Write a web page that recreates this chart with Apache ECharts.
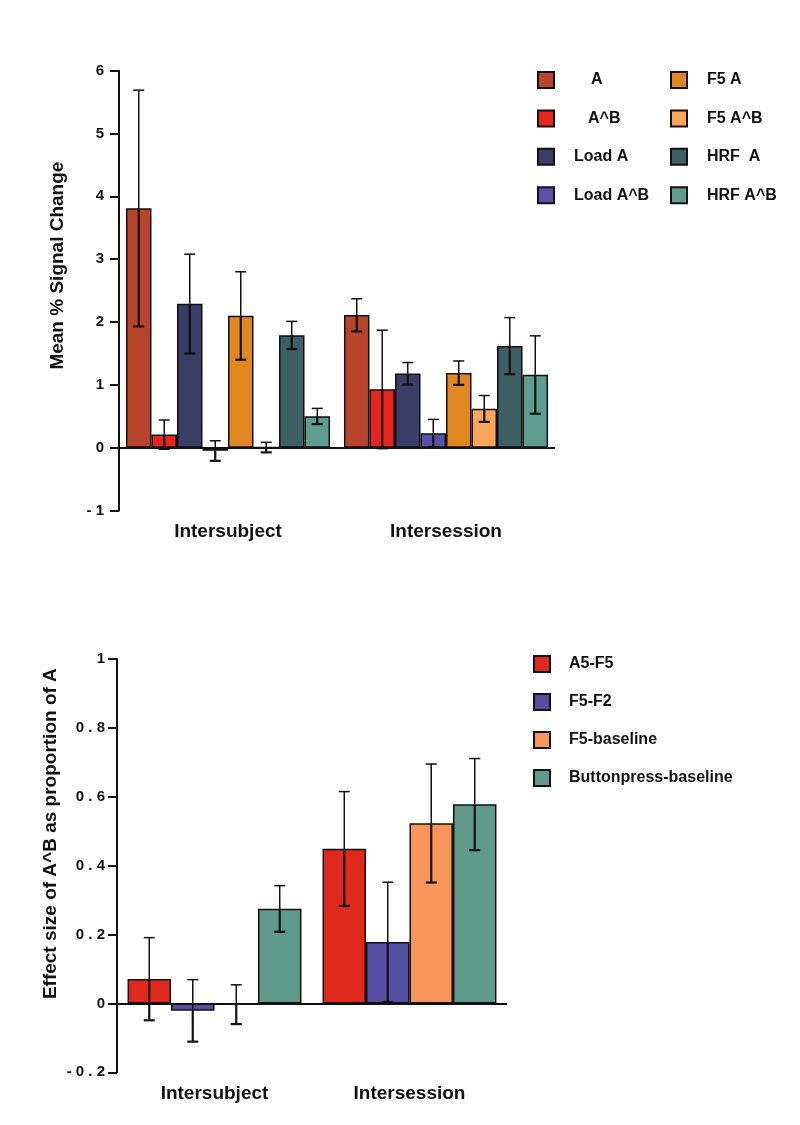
<!DOCTYPE html>
<html>
<head>
<meta charset="utf-8">
<style>
  html, body { margin: 0; padding: 0; background: #ffffff; }
  #chart { width: 800px; height: 1125px; }
</style>
<script src="https://cdn.jsdelivr.net/npm/echarts@6/dist/echarts.min.js"></script>
</head>
<body>
<div id="chart"></div>
<script>
// ---------- DATA ----------
const categories = ['Intersubject', 'Intersession'];

// Top chart: Mean % Signal Change
const topNames  = ['A', 'A^B', 'Load A', 'Load A^B', 'F5 A', 'F5 A^B', 'HRF  A', 'HRF A^B'];
const topColors = ['#b8452b', '#e8251d', '#3b3e66', '#5a52aa', '#e0881f', '#f9a65a', '#3e5f66', '#5f9e8e'];
const topMeans = [
  [3.81, 2.11],   // A
  [0.21, 0.93],   // A^B
  [2.29, 1.18],   // Load A
  [-0.05, 0.23],  // Load A^B
  [2.10, 1.19],   // F5 A
  [0.005, 0.62],  // F5 A^B
  [1.79, 1.62],   // HRF A
  [0.50, 1.16]    // HRF A^B
];
const topErrs = [
  [1.88, 0.26],
  [0.23, 0.94],
  [0.79, 0.175],
  [0.16, 0.22],
  [0.70, 0.19],
  [0.08, 0.21],
  [0.22, 0.45],
  [0.125, 0.62]
];
const topTickLabels = ['- 1', '0', '1', '2', '3', '4', '5', '6'];

// Bottom chart: Effect size of A^B as proportion of A
const botNames  = ['A5-F5', 'F5-F2', 'F5-baseline', 'Buttonpress-baseline'];
const botColors = ['#de291c', '#544fa3', '#f8955b', '#5f9a8b'];
const botMeans = [
  [0.071, 0.449],
  [-0.021, 0.178],
  [-0.003, 0.523],
  [0.275, 0.578]
];
const botErrs = [
  [0.12, 0.166],
  [0.09, 0.174],
  [0.057, 0.172],
  [0.067, 0.133]
];
const botTickLabels = ['- 0 . 2', '0', '0 . 2', '0 . 4', '0 . 6', '0 . 8', '1'];

// ---------- CHART ----------
const FONT = 'Liberation Sans, Arial, Helvetica, sans-serif';
const chart = echarts.init(document.getElementById('chart'), null, { renderer: 'canvas' });

const TOP_GAP = 0.064, BOT_GAP = 0.108;

function errorRenderer(nBars, gapFrac) {
  return function (params, api) {
    const cat = api.value(0), mean = api.value(1), err = api.value(2), idx = api.value(3);
    const band = api.size([1, 0])[0];
    const barW = band * (1 - gapFrac) / nBars;
    const cx = api.coord([cat, mean])[0] + (idx - (nBars - 1) / 2) * barW;
    const yMean = api.coord([cat, mean])[1];
    const yHi = api.coord([cat, mean + err])[1];
    const yLo = api.coord([cat, mean - err])[1];
    const cap = 5.5;
    const thin = { stroke: '#111', lineWidth: 1.5 };
    const thick = { stroke: '#111', lineWidth: 2.2 };
    return {
      type: 'group',
      children: [
        { type: 'line', shape: { x1: cx, y1: yMean, x2: cx, y2: yHi }, style: thin },
        { type: 'line', shape: { x1: cx - cap, y1: yHi, x2: cx + cap, y2: yHi }, style: thin },
        { type: 'line', shape: { x1: cx, y1: yMean, x2: cx, y2: yLo }, style: thick },
        { type: 'line', shape: { x1: cx - cap, y1: yLo, x2: cx + cap, y2: yLo }, style: thick }
      ]
    };
  };
}

function zeroLine() {
  return {
    silent: true,
    symbol: ['none', 'none'],
    label: { show: false },
    lineStyle: { color: '#111', width: 2, type: 'solid' },
    data: [{ yAxis: 0 }]
  };
}

const series = [];
topNames.forEach((name, i) => {
  series.push({
    name: name, type: 'bar', xAxisIndex: 0, yAxisIndex: 0,
    barGap: '0%', barCategoryGap: (TOP_GAP * 100) + '%',
    itemStyle: { color: topColors[i], borderColor: '#111', borderWidth: 1.5 },
    data: topMeans[i],
    markLine: i === 0 ? zeroLine() : undefined,
    animation: false
  });
});
const topErrData = [];
topNames.forEach((n, i) => categories.forEach((c, j) => topErrData.push([j, topMeans[i][j], topErrs[i][j], i])));
series.push({
  type: 'custom', xAxisIndex: 0, yAxisIndex: 0, z: 5,
  renderItem: errorRenderer(topNames.length, TOP_GAP),
  data: topErrData, animation: false, silent: true
});

botNames.forEach((name, i) => {
  series.push({
    name: name, type: 'bar', xAxisIndex: 1, yAxisIndex: 1,
    barGap: '0%', barCategoryGap: (BOT_GAP * 100) + '%',
    itemStyle: { color: botColors[i], borderColor: '#111', borderWidth: 1.5 },
    data: botMeans[i],
    markLine: i === 0 ? zeroLine() : undefined,
    animation: false
  });
});
const botErrData = [];
botNames.forEach((n, i) => categories.forEach((c, j) => botErrData.push([j, botMeans[i][j], botErrs[i][j], i])));
series.push({
  type: 'custom', xAxisIndex: 1, yAxisIndex: 1, z: 5,
  renderItem: errorRenderer(botNames.length, BOT_GAP),
  data: botErrData, animation: false, silent: true
});

function labelFmt(labels, min, step) {
  return function (v) {
    const k = Math.round((v - min) / step);
    return labels[k] !== undefined ? labels[k] : '';
  };
}

const legendText = { fontFamily: FONT, fontWeight: 'bold', fontSize: 16, color: '#111' };
function legendRich(pads) {
  const rich = {};
  pads.forEach(p => {
    rich['p' + p] = Object.assign({}, legendText, { padding: [0, 0, 0, p] });
  });
  return rich;
}
const topPad = { 'A': 32, 'A^B': 29, 'Load A': 15, 'Load A^B': 15, 'F5 A': 15, 'F5 A^B': 15, 'HRF  A': 15, 'HRF A^B': 15 };

const legendBase = {
  orient: 'vertical', itemWidth: 16, itemHeight: 16, selectedMode: false, padding: 0,
  icon: 'rect', textStyle: Object.assign({ rich: legendRich([14, 15, 29, 32]) }, legendText)
};

const option = {
  backgroundColor: '#ffffff',
  animation: false,
  grid: [
    { left: 119, top: 70.7, width: 436, height: 439.8, containLabel: false },
    { left: 117, top: 659, width: 390, height: 413.3, containLabel: false }
  ],
  legend: [
    Object.assign({}, legendBase, {
      left: 537, top: 71, itemGap: 20.4,
      data: topNames.slice(0, 4),
      formatter: n => '{p' + topPad[n] + '|' + n + '}'
    }),
    Object.assign({}, legendBase, {
      left: 670, top: 71, itemGap: 20.4,
      data: topNames.slice(4),
      formatter: n => '{p' + topPad[n] + '|' + n + '}'
    }),
    Object.assign({}, legendBase, {
      left: 533, top: 655, itemGap: 20,
      data: botNames,
      formatter: n => '{p14|' + n + '}'
    })
  ],
  xAxis: [
    {
      type: 'category', gridIndex: 0, data: categories,
      axisLine: { show: false, onZero: false }, axisTick: { show: false },
      axisLabel: { margin: 12, fontFamily: FONT, fontWeight: 'bold', fontSize: 19, color: '#111' }
    },
    {
      type: 'category', gridIndex: 1, data: categories,
      axisLine: { show: false, onZero: false }, axisTick: { show: false },
      axisLabel: { margin: 12, fontFamily: FONT, fontWeight: 'bold', fontSize: 19, color: '#111' }
    }
  ],
  yAxis: [
    {
      type: 'value', gridIndex: 0, min: -1, max: 6, interval: 1,
      name: 'Mean % Signal Change', nameLocation: 'middle', nameGap: 52, nameRotate: 90,
      nameTextStyle: { fontFamily: FONT, fontWeight: 'bold', fontSize: 19, color: '#111', padding: [0, 0, 0, 50] },
      axisLine: { show: true, lineStyle: { color: '#111', width: 2 } },
      axisTick: { show: true, inside: false, length: 9, lineStyle: { color: '#111', width: 2 } },
      splitLine: { show: false },
      axisLabel: { margin: 15, fontFamily: FONT, fontWeight: 'bold', fontSize: 15, color: '#111',
                   formatter: labelFmt(topTickLabels, -1, 1) }
    },
    {
      type: 'value', gridIndex: 1, min: -0.2, max: 1, interval: 0.2,
      name: 'Effect size of A^B as proportion of A', nameLocation: 'middle', nameGap: 57, nameRotate: 90,
      nameTextStyle: { fontFamily: FONT, fontWeight: 'bold', fontSize: 19, color: '#111', padding: [0, 0, 0, 64] },
      axisLine: { show: true, lineStyle: { color: '#111', width: 2 } },
      axisTick: { show: true, inside: false, length: 9, lineStyle: { color: '#111', width: 2 } },
      splitLine: { show: false },
      axisLabel: { margin: 12, fontFamily: FONT, fontWeight: 'bold', fontSize: 15, color: '#111',
                   formatter: labelFmt(botTickLabels, -0.2, 0.2) }
    }
  ],
  series: series
};

chart.setOption(option);
</script>
</body>
</html>
